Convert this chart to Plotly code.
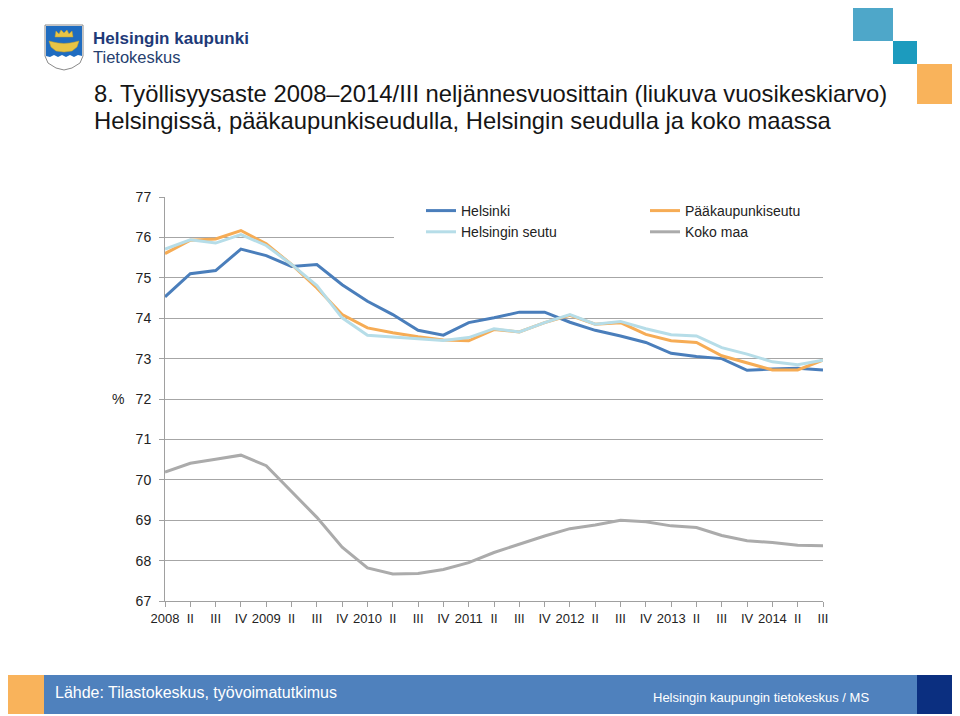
import plotly.graph_objects as go

# ---------------- data ----------------
quarter_labels = ["2008", "II", "III", "IV", "2009", "II", "III", "IV", "2010", "II", "III", "IV",
                  "2011", "II", "III", "IV", "2012", "II", "III", "IV", "2013", "II", "III", "IV",
                  "2014", "II", "III"]

helsinki = [74.53, 75.10, 75.18, 75.71, 75.55, 75.28, 75.33, 74.83, 74.42, 74.09, 73.70, 73.58,
            73.89, 74.01, 74.15, 74.15, 73.90, 73.70, 73.56, 73.40, 73.13, 73.05, 73.00, 72.71,
            72.74, 72.76, 72.72]
paakaupunkiseutu = [75.60, 75.93, 75.96, 76.17, 75.84, 75.33, 74.75, 74.09, 73.76, 73.64, 73.54, 73.46,
                    73.44, 73.72, 73.66, 73.89, 74.07, 73.85, 73.89, 73.60, 73.44, 73.40, 73.07, 72.89,
                    72.72, 72.72, 72.96]
helsingin_seutu = [75.71, 75.94, 75.86, 76.07, 75.80, 75.33, 74.81, 74.01, 73.58, 73.53, 73.49, 73.45,
                   73.52, 73.74, 73.66, 73.89, 74.09, 73.85, 73.92, 73.74, 73.59, 73.56, 73.27, 73.11,
                   72.92, 72.85, 72.96]
koko_maa = [70.19, 70.41, 70.51, 70.61, 70.35, 69.71, 69.07, 68.33, 67.82, 67.67, 67.68, 67.78,
            67.95, 68.20, 68.40, 68.61, 68.79, 68.88, 69.00, 68.96, 68.86, 68.82, 68.62, 68.49,
            68.45, 68.38, 68.37]

series_names = ["Helsinki", "Pääkaupunkiseutu", "Helsingin seutu", "Koko maa"]
series_values = [helsinki, paakaupunkiseutu, helsingin_seutu, koko_maa]
series_colors = ["#4A7EBB", "#F6AC55", "#B6DDE8", "#ABABAB"]

y_ticks = list(range(67, 78))

title_line1 = "8. Työllisyysaste 2008–2014/III neljännesvuosittain (liukuva vuosikeskiarvo)"
title_line2 = "Helsingissä, pääkaupunkiseudulla, Helsingin seudulla ja koko maassa"
source_text = "Lähde: Tilastokeskus, työvoimatutkimus"
credit_text = "Helsingin kaupungin tietokeskus / MS"

# ---------------- layout geometry ----------------
# the page body has an 8 px margin; screen coords = figure coords + 8
OFF = 8
W, H = 960, 716
L, R, T, B = 165 - OFF, 960 - 823 + OFF, 197 - OFF, 716 - 601 + OFF
PW, PH = W - L - R, H - T - B


def px(x):
    return (x - OFF - L) / PW


def py(y):
    return (H - B - (y - OFF)) / PH


def path(points, close=True):
    s = "M " + " L ".join(f"{px(x):.5f},{py(y):.5f}" for x, y in points)
    return s + (" Z" if close else "")


FONT = "Liberation Sans, Arial, Helvetica, sans-serif"

fig = go.Figure()
x_idx = list(range(len(quarter_labels)))
for name, vals, col in zip(series_names, series_values, series_colors):
    fig.add_trace(go.Scatter(x=x_idx, y=vals, name=name, mode="lines",
                             line=dict(color=col, width=3)))

shapes = []
# white box hiding the 76 gridline behind the legend (as in the original)
shapes.append(dict(type="rect", xref="paper", yref="paper", layer="above",
                   x0=px(394), x1=px(824), y0=py(246), y1=py(205),
                   fillcolor="white", line=dict(width=0)))

# top-right decorative squares
for (x0, y0, x1, y1, c) in [(853, 1, 893, 41, "#4EA7C9"), (893, 41, 917, 64, "#1C9BBE"),
                            (917, 64, 957, 104, "#F9B35B")]:
    shapes.append(dict(type="rect", xref="paper", yref="paper", x0=px(x0), x1=px(x1),
                       y0=py(y1), y1=py(y0), fillcolor=c, line=dict(width=0)))

# footer bar
for (x0, x1, c) in [(5, 44, "#F9B35B"), (44, 917, "#4F81BD"), (917, 958, "#0B2F80")]:
    shapes.append(dict(type="rect", xref="paper", yref="paper", x0=px(x0), x1=px(x1),
                       y0=py(714), y1=py(675), fillcolor=c, line=dict(width=0)))

# logo shield
shield = [(45, 25), (83, 25), (83, 56), (80, 63), (72, 68), (64, 70), (56, 68), (48, 63), (45, 56)]
shapes.append(dict(type="path", xref="paper", yref="paper", path=path(shield),
                   fillcolor="white", line=dict(color="#8A8A8A", width=1)))
blue_part = [(46, 26), (82, 26), (82, 56), (78, 55), (74, 57), (70, 55), (66, 57), (62, 55),
             (58, 57), (54, 55), (50, 57), (46, 56)]
shapes.append(dict(type="path", xref="paper", yref="paper", path=path(blue_part),
                   fillcolor="#1F6CC0", line=dict(width=0)))
crown = [(55, 37), (56, 31), (59, 34), (61, 30), (64, 33), (67, 30), (69, 34), (72, 31), (73, 37)]
shapes.append(dict(type="path", xref="paper", yref="paper", path=path(crown),
                   fillcolor="#E9C445", line=dict(color="#C9A22A", width=0.5)))
boat = [(49, 41), (53, 42), (58, 43), (64, 43.5), (70, 43), (75, 42), (79, 41), (77, 47),
        (72, 51), (64, 52), (56, 51), (51, 47)]
shapes.append(dict(type="path", xref="paper", yref="paper", path=path(boat),
                   fillcolor="#E9C445", line=dict(color="#C9A22A", width=0.5)))

annotations = [
    dict(text=title_line1, x=px(92), y=py(93.8), xanchor="left", yanchor="middle",
         font=dict(size=23.8, color="#151515", family=FONT)),
    dict(text=title_line2, x=px(92), y=py(120.5), xanchor="left", yanchor="middle",
         font=dict(size=23.8, color="#151515", family=FONT)),
    dict(text="<b>Helsingin kaupunki</b>", x=px(91), y=py(38.5), xanchor="left", yanchor="middle",
         font=dict(size=17, color="#1E3A78", family=FONT)),
    dict(text="Tietokeskus", x=px(91), y=py(57), xanchor="left", yanchor="middle",
         font=dict(size=16.5, color="#26406F", family=FONT)),
    dict(text="%", x=px(118), y=py(399), xanchor="center", yanchor="middle",
         font=dict(size=14, color="#222222", family=FONT)),
    dict(text=source_text, x=px(53), y=py(692), xanchor="left", yanchor="middle",
         font=dict(size=16, color="white", family=FONT)),
    dict(text=credit_text, x=px(871), y=py(697), xanchor="right", yanchor="middle",
         font=dict(size=13, color="white", family=FONT)),
]
for a in annotations:
    a.update(xref="paper", yref="paper", showarrow=False)

fig.update_layout(
    width=W, height=H,
    margin=dict(l=L, r=R, t=T, b=B),
    paper_bgcolor="white", plot_bgcolor="white",
    font=dict(family=FONT, size=14, color="#222222"),
    showlegend=True,
    legend=dict(orientation="h", x=px(421), y=py(195), xanchor="left", yanchor="top",
                entrywidth=179, entrywidthmode="pixels", bgcolor="rgba(0,0,0,0)",
                font=dict(size=14, color="#222222", family=FONT), traceorder="normal",
                itemclick=False, tracegroupgap=0),
    shapes=shapes,
    annotations=annotations,
    xaxis=dict(range=[0, len(quarter_labels) - 1], tickmode="array", tickvals=x_idx,
               ticktext=quarter_labels, tickangle=0, showgrid=False, zeroline=False,
               showline=True, linecolor="#A0A0A0", linewidth=1,
               ticks="outside", ticklen=5, tickcolor="#A0A0A0",
               tickfont=dict(size=13, color="#222222", family=FONT)),
    yaxis=dict(range=[67, 77], tickmode="array", tickvals=y_ticks,
               ticktext=[str(v) for v in y_ticks], showgrid=True, gridcolor="#A6A6A6",
               gridwidth=1, zeroline=False, showline=True, linecolor="#A0A0A0", linewidth=1,
               ticks="outside", ticklen=5, tickcolor="#A0A0A0", ticklabelstandoff=5,
               tickfont=dict(size=14, color="#222222", family=FONT)),
)

fig.write_html("out.html")
